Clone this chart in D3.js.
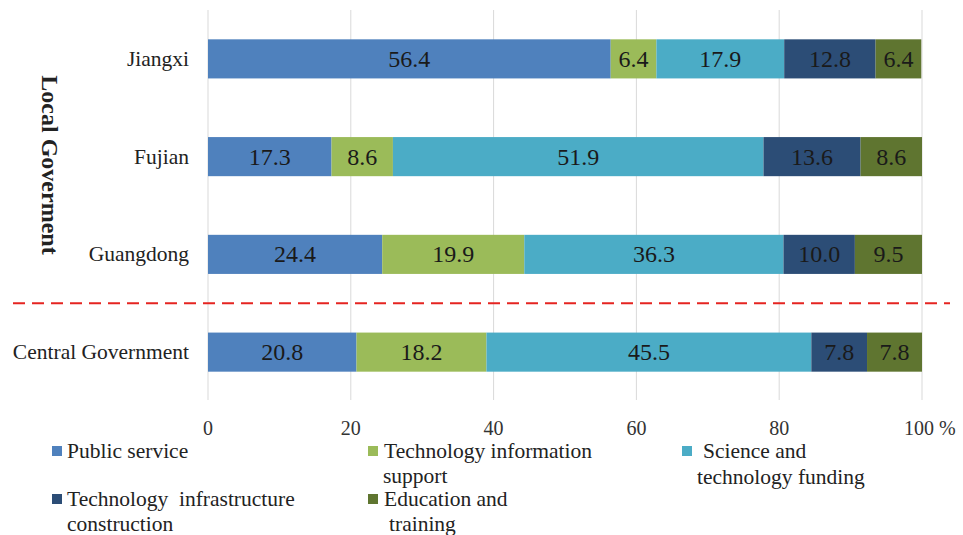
<!DOCTYPE html>
<html><head><meta charset="utf-8">
<script src="https://cdn.jsdelivr.net/npm/d3@7"></script>
<style>body{margin:0;background:#fff}svg{display:block}svg text{font-family:"Liberation Serif","DejaVu Serif",serif}</style>
</head><body><svg id="c" width="963" height="535"></svg>
<script>
const categories = ["Jiangxi","Fujian","Guangdong","Central Government"];
const seriesNames = ["Public service","Technology information support","Science and technology funding","Technology infrastructure construction","Education and training"];
const publicService = [56.4,17.3,24.4,20.8];
const techInfo = [6.4,8.6,19.9,18.2];
const sciFunding = [17.9,51.9,36.3,45.5];
const infra = [12.8,13.6,10.0,7.8];
const education = [6.4,8.6,9.5,7.8];
const tickValues = [0,20,40,60,80,100];
const colors = ["#4f81bd","#9bbb59","#4bacc6","#2c4d76","#5f7530"];

const seriesVals = [publicService, techInfo, sciFunding, infra, education];
const rows = categories.map((c,i)=>{const o={cat:c}; seriesNames.forEach((s,j)=>o[s]=seriesVals[j][i]); return o;});
const stack = d3.stack().keys(seriesNames)(rows);

const svg = d3.select("#c");
const x = d3.scaleLinear().domain([0,100]).range([208,922]);
const y = d3.scaleBand().domain(categories).range([10,401]).paddingInner(0.6).paddingOuter(0.3);

svg.append("g").selectAll("line").data(tickValues).join("line")
  .attr("x1",d=>x(d)).attr("x2",d=>x(d)).attr("y1",10).attr("y2",400)
  .attr("stroke","#d9d9d9").attr("stroke-width",1);

svg.append("g").selectAll("text").data(tickValues).join("text")
  .attr("x",d=>d===100?x(d)-18:x(d)).attr("y",435)
  .attr("text-anchor",d=>d===100?"start":"middle")
  .attr("font-size",20).attr("fill","#333")
  .text(d=>d===100?"100 %":d);

const g = svg.append("g");
stack.forEach((s,j)=>{
  const gg = g.append("g");
  gg.selectAll("rect").data(s).join("rect")
    .attr("x",d=>x(d[0])).attr("width",d=>x(Math.min(d[1],100))-x(d[0]))
    .attr("y",d=>y(d.data.cat)).attr("height",y.bandwidth())
    .attr("fill",colors[j]);
  gg.selectAll("text").data(s).join("text")
    .attr("x",d=>(x(d[0])+x(Math.min(d[1],100)))/2)
    .attr("y",d=>y(d.data.cat)+y.bandwidth()/2+8)
    .attr("text-anchor","middle").attr("font-size",24).attr("fill","#1a1a1a")
    .text(d=>(d[1]-d[0]).toFixed(1));
});

svg.append("g").selectAll("text").data(categories).join("text")
  .attr("x",189).attr("y",d=>y(d)+y.bandwidth()/2+7)
  .attr("text-anchor","end").attr("font-size",21.5).attr("fill","#222")
  .text(d=>d);

const midY = (y("Guangdong")+y.bandwidth()+y("Central Government"))/2;
svg.append("line").attr("x1",13).attr("x2",950).attr("y1",midY).attr("y2",midY)
  .attr("stroke","#e52421").attr("stroke-width",2.2).attr("stroke-dasharray","12,7");

svg.append("text").attr("transform","translate(42,165) rotate(90)")
  .attr("text-anchor","middle").attr("font-size",24).attr("font-weight","bold").attr("fill","#222")
  .text("Local Goverment");

const legend = [
  {i:0, sx:52, lines:[{t:"Public service",x:67,y:458}], sy:451},
  {i:1, sx:368, lines:[{t:"Technology information",x:384,y:458},{t:"support",x:383,y:483}], sy:451},
  {i:2, sx:682, lines:[{t:"Science and",x:703,y:458},{t:"technology funding",x:697,y:484}], sy:451},
  {i:3, sx:52, lines:[{t:"Technology  infrastructure",x:67,y:506},{t:"construction",x:67,y:531}], sy:499},
  {i:4, sx:368, lines:[{t:"Education and",x:384,y:506},{t:"training",x:389,y:531}], sy:499}
];
const lg = svg.append("g");
legend.forEach(l=>{
  lg.append("rect").attr("x",l.sx).attr("y",l.sy-5).attr("width",10).attr("height",10).attr("fill",colors[l.i]);
  l.lines.forEach(t=>lg.append("text").attr("x",t.x).attr("y",t.y).attr("font-size",21.5).attr("fill","#222").style("white-space","pre").text(t.t));
});
</script></body></html>
